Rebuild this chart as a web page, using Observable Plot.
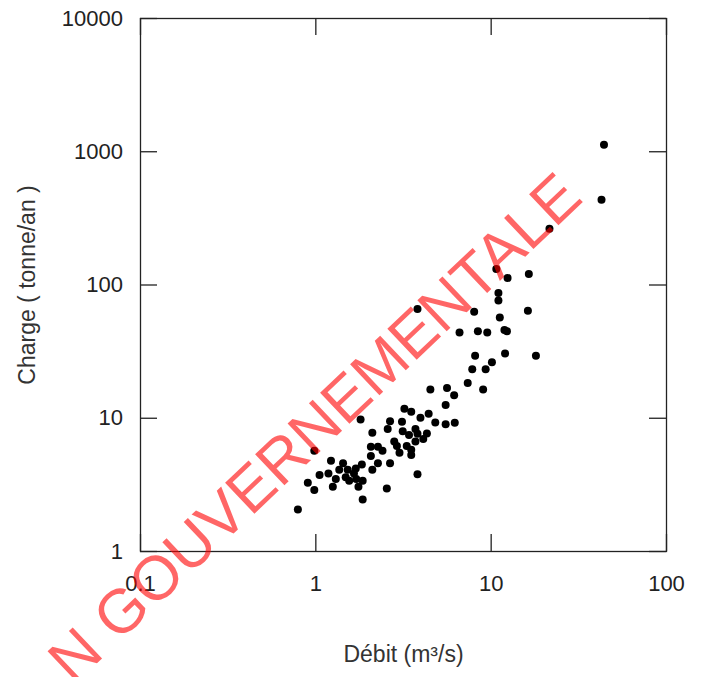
<!DOCTYPE html>
<html><head><meta charset="utf-8">
<script src="https://cdn.jsdelivr.net/npm/d3@7"></script>
<script src="https://cdn.jsdelivr.net/npm/@observablehq/plot@0.6"></script>
<style>body{margin:0;background:#fff;} #chart{width:702px;height:677px;overflow:hidden}</style>
</head><body><div id="chart"></div>
<script>
const debit = [44,42.6,21.5,10.7,12.4,16.4,11.0,11.0,3.8,8.0,16.2,11.2,6.6,8.4,9.5,11.9,12.3,8.1,12.0,18.0,10.1,7.8,9.3,7.35,9.0,4.5,5.6,6.15,5.5,3.2,3.5,4.4,3.95,4.8,5.5,6.2,1.8,2.65,3.1,2.57,2.1,3.13,3.4,3.7,3.8,4.3,4.1,3.7,2.8,2.9,2.26,2.4,2.06,3.5,3.5,3.0,3.3,2.65,2.26,2.06,2.1,3.8,2.54,0.98,1.22,1.43,1.36,1.52,1.83,1.69,1.65,1.05,1.18,1.3,1.48,1.55,1.7,1.85,1.75,1.25,0.9,0.98,1.85,0.79];
const charge = [1130,437,264,132,113,121,87,76.5,66,63,64,57,44,45,44,46,45,29.5,30.6,29.5,26.3,23.3,23.3,18.4,16.4,16.4,16.9,14.9,12.6,11.8,11.2,10.8,10.1,9.3,9.0,9.25,9.8,9.5,9.4,8.3,7.8,8.0,7.5,8.3,7.65,7.7,7.0,6.7,6.7,6.2,6.1,5.7,6.1,5.8,5.3,5.5,6.2,4.6,4.6,5.2,4.1,3.8,2.97,5.7,4.8,4.6,4.1,4.1,4.5,4.2,3.85,3.75,3.85,3.5,3.6,3.4,3.5,3.4,3.06,3.06,3.28,2.9,2.46,2.07];
const xTicks = [0.1, 1, 10, 100];
const yTicks = [1, 10, 100, 1000, 10000];
const xLabel = "Débit (m³/s)";
const yLabel = "Charge ( tonne/an )";
const watermark = "N GOUVERNEMENTALE";

const W = 702, H = 677;
const mL = 140, mR = 36, mT = 18, mB = 126;
const pw = W - mL - mR, ph = H - mT - mB;
const tick = 17;
const ink = "#222";
const data = debit.map((d, i) => ({debit: d, charge: charge[i]}));

const chart = Plot.plot({
  width: W, height: H,
  marginLeft: mL, marginRight: mR, marginTop: mT, marginBottom: mB,
  style: {fontFamily: "'Liberation Sans', Arial, sans-serif", fontSize: "22px", background: "#fff", color: ink},
  x: {type: "log", domain: [0.1, 100]},
  y: {type: "log", domain: [1, 10000]},
  marks: [
    Plot.frame({stroke: ink, strokeWidth: 1.3}),
    Plot.tickY(yTicks, {y: d => d, insetRight: pw - tick, stroke: ink, strokeWidth: 1.3}),
    Plot.tickY(yTicks, {y: d => d, insetLeft: pw - tick, stroke: ink, strokeWidth: 1.3}),
    Plot.tickX(xTicks, {x: d => d, insetTop: ph - tick, stroke: ink, strokeWidth: 1.3}),
    Plot.tickX(xTicks, {x: d => d, insetBottom: ph - tick, stroke: ink, strokeWidth: 1.3}),
    Plot.axisY({ticks: yTicks, tickSize: 0, tickPadding: 17.5, tickFormat: d => String(d), label: null, fill: ink, fontSize: 22}),
    Plot.axisX({ticks: xTicks, tickSize: 0, tickPadding: 23.5, tickFormat: d => String(d), label: null, fill: ink, fontSize: 22}),
    Plot.dot(data, {x: "debit", y: "charge", r: 4, fill: "black", stroke: "none"}),
    Plot.text([xLabel], {frameAnchor: "bottom", dy: 110, fill: "#333", fontSize: 23}),
    Plot.text([yLabel], {frameAnchor: "left", dx: -113, rotate: -90, textAnchor: "middle", fill: "#333", fontSize: 23})
  ]
});
document.getElementById("chart").appendChild(chart);

d3.select(chart).append("text")
  .attr("transform", "translate(329,443) rotate(-43.5)")
  .attr("text-anchor", "middle")
  .attr("font-family", "'Liberation Sans', Arial, sans-serif")
  .attr("font-size", 62)
  .attr("fill", "#ff0000")
  .attr("fill-opacity", 0.6)
  .text(watermark);
</script>
</body></html>
